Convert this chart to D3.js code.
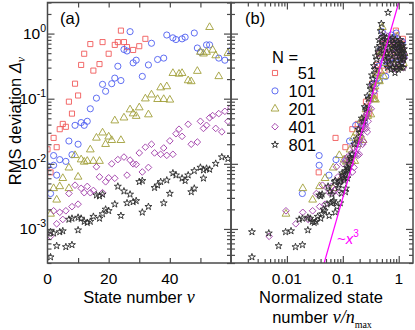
<!DOCTYPE html>
<html>
<head>
<meta charset="utf-8">
<script src="https://cdn.jsdelivr.net/npm/d3@7"></script>
<style>
  body { margin: 0; background: #fff; }
  svg { display: block; }
  text { font-family: "Liberation Sans", Arial, sans-serif; fill: #000; }
</style>
</head>
<body>
<svg id="chart" width="415" height="330"></svg>
<script>
// ######################## Data #############################################
// each entry is [state number nu, RMS deviation]
const sizes = [51, 101, 201, 401, 801]
const nMax = [27, 53, 104, 208, 422]   // used for the normalized axis of panel (b)

const dev51 = [[0,0.0167],[1,0.0074],[2,0.025],[3,0.018],[4,0.034],[5,0.041],[6,0.037],[7,0.09],[8,0.059],
  [9,0.17],[10,0.112],[11,0.33],[12,0.49],[14,0.69],[15,0.27],[17,0.34],[18,0.74],[20,0.49],[22,0.67],
  [23,0.74],[24,1.11],[25,0.74],[26,0.62],[28,0.56],[30,0.64],[32,0.83]]

const dev101 = [[0,0.0093],[1,0.0035],[2,0.0095],[2,0.0134],[3,0.0067],[4,0.0116],[6,0.0109],[7,0.0224],
  [8,0.0138],[9,0.039],[10,0.020],[11,0.043],[12,0.039],[13,0.045],[14,0.070],[16,0.102],[18,0.166],
  [19,0.13],[21,0.17],[22,0.207],[23,0.315],[24,0.19],[25,0.57],[26,0.54],[27,1.07],[28,0.355],[29,0.39],
  [31,0.22],[33,0.33],[34,0.71],[36,0.40],[38,0.42],[39,0.95],[41,0.86],[42,0.81],[44,0.83],[45,0.88],
  [48,1.02],[49,0.6],[50,0.52],[52,0.67],[53,0.67],[56,0.42],[58,0.39],[60,0.55],[62,0.75],[64,0.45],[66,0.46]]

const dev201 = [[1,0.0017],[2,0.0042],[3,0.0028],[4,0.0045],[5,0.006],[7,0.0087],[7,0.0042],[9,0.0135],
  [10,0.0063],[11,0.0116],[12,0.0107],[13,0.011],[14,0.0165],[15,0.011],[16,0.025],[17,0.011],[18,0.030],
  [19,0.020],[20,0.026],[21,0.023],[22,0.046],[24,0.023],[25,0.051],[27,0.068],[28,0.059],[29,0.054],
  [30,0.073],[32,0.10],[33,0.057],[34,0.115],[36,0.098],[37,0.148],[38,0.098],[39,0.154],[40,0.096],
  [41,0.246],[43,0.24],[44,0.246],[46,0.19],[47,0.184],[49,0.265],[50,0.52],[51,0.49],[52,0.52],[53,1.25],
  [54,0.56],[55,0.46],[56,0.22],[59,0.5],
  [62,0.35],[66,0.7],[70,0.45],[74,0.85],[78,0.5],[82,0.65],[86,0.32],[90,0.75],[94,0.45],[98,0.9],
  [102,0.4],[106,0.6],[110,0.3],[114,0.7],[118,0.45],[122,0.55],[126,0.35],[130,0.5]]

const dev401 = [[1,0.00077],[2,0.0019],[3,0.0012],[4,0.0018],[5,0.0014],[6,0.0019],[7,0.0035],[8,0.0022],
  [9,0.0047],[10,0.0024],[11,0.0042],[12,0.0036],[13,0.0045],[14,0.0036],[15,0.0039],[16,0.009],[17,0.0063],
  [18,0.0036],[19,0.0053],[20,0.0061],[21,0.0100],[22,0.006],[23,0.0116],[25,0.0127],[26,0.0067],[27,0.0114],
  [28,0.010],[29,0.0098],[30,0.0147],[31,0.0075],[32,0.018],[33,0.0088],[34,0.020],[35,0.0147],[37,0.014],
  [38,0.0175],[39,0.0135],[40,0.0225],[41,0.014],[42,0.029],[43,0.034],[44,0.0264],[46,0.0405],[47,0.020],
  [49,0.0216],[50,0.045],[51,0.035],[52,0.039],[53,0.051],[54,0.055],[55,0.035],[56,0.059],[57,0.031],
  [58,0.064],[59,0.045],[60,0.073],
  [62,0.09],[67,0.07],[72,0.16],[77,0.13],[82,0.3],[87,0.25],[92,0.5],[97,0.42],[102,0.85],[107,0.6],
  [112,1.0],[117,0.55],[122,0.75],[127,0.4],[132,0.9],[137,0.5],[142,0.65],[147,0.35],[152,0.8],[157,0.45],
  [162,0.6],[167,0.3],[172,0.75],[177,0.5],[182,0.65],[187,0.28],[192,0.55],[197,0.85],[202,0.4],[207,0.6],
  [212,0.32],[217,0.7],[222,0.45],[227,0.55],[232,0.35],[237,0.75],[242,0.4],[247,0.6],[252,0.3],[257,0.5],[262,0.42]]

const dev801 = [[1,0.00037],[1,0.0009],[2,0.00086],[3,0.00055],[4,0.0009],[5,0.00093],[6,0.00053],[7,0.0014],
  [8,0.00057],[8,0.00145],[10,0.0015],[10,0.00096],[11,0.00145],[12,0.0013],[13,0.00125],[14,0.0013],
  [15,0.00155],[16,0.0033],[17,0.00145],[17,0.0032],[18,0.0017],[18,0.0034],[19,0.002],[20,0.0019],
  [22,0.0024],[23,0.0045],[24,0.0016],[25,0.0038],[26,0.0025],[27,0.0034],[28,0.0026],[29,0.0027],
  [30,0.0053],[31,0.0018],[31,0.0055],[33,0.0022],[35,0.0043],[36,0.0047],[37,0.0053],[38,0.0025],
  [39,0.0056],[40,0.0035],[41,0.0072],[42,0.0067],[44,0.006],[45,0.0055],[46,0.0067],[47,0.0037],
  [48,0.0078],[48,0.0042],[50,0.0088],[51,0.006],[51,0.008],[52,0.0085],[53,0.0082],[55,0.0101],
  [57,0.0127],[59,0.012],
  [62,0.014],[68,0.02],[74,0.024],[80,0.034],[86,0.03],[92,0.05],[98,0.045],[104,0.075],[110,0.07],
  [116,0.11],[122,0.1],[128,0.16],[134,0.14],[140,0.23],[146,0.2],[152,0.32],[158,0.28],[164,0.45],
  [170,0.4],[176,0.6],[182,0.52],[188,0.8],[194,0.65],[200,1.1],[206,1.42],[212,0.75],[218,0.9],[224,0.55],
  [230,0.9],[236,0.45],[242,0.7],[248,0.38],[254,0.85],[260,0.5],[266,0.3],[272,2.1],[278,0.42],[284,0.6],
  [290,0.33],[296,0.8],[302,0.5],[308,0.28],[314,0.65],[320,0.4],[326,0.85],[332,0.3],[338,0.55],[344,0.7],
  [350,0.35],[356,0.6],[362,0.25],[368,0.8],[374,0.45],[380,0.65],[386,0.3],[392,0.5],[398,0.75],[404,0.38],
  [410,0.6],[416,0.28],[422,0.7],[428,0.45],[434,0.55],[440,0.32],[446,0.8],[452,0.4],[458,0.62],[464,0.3],
  [470,0.5],[476,0.7],[482,0.35],[488,0.55],[494,0.42],[500,0.65],[506,0.3],[512,0.5],[518,0.4],[524,0.58],[530,0.45]]

// guide line ~x^3 in panel (b)
const guideX = [0.0464, 1.0]
const guideY = [3e-4, 3]

const xTicksA = [0, 20, 40]
const xMinorA = [10, 30, 50]
const xTicksB = [0.01, 0.1, 1]
const yDecades = [1e-3, 1e-2, 1e-1, 1]

// ##################### Layout #################################
const svg = d3.select("#chart")
const yTop = 2.5, yBottom = 263
const ax0 = 47.5, ax1 = 231, bx1 = 413
const axisColor = "#4a4a4a"

const y = d3.scaleLog().domain([3e-4, 3]).range([yBottom, yTop])
const xa = d3.scaleLinear().domain([0, 60]).range([ax0, ax1])
const xb = d3.scaleLog().domain([0.001, 1.8]).range([ax1, bx1])

const series = [
  { data: dev51, color: "#f05a5a", sym: d3.symbolSquare, size: 26, rot: 0 },
  { data: dev101, color: "#4f5ff0", sym: d3.symbolCircle, size: 30, rot: 0 },
  { data: dev201, color: "#a29f3a", sym: d3.symbolTriangle, size: 26, rot: 0 },
  { data: dev401, color: "#a444ac", sym: d3.symbolSquare, size: 22, rot: 45 },
  { data: dev801, color: "#2a2a2a", sym: d3.symbolStar, size: 15, rot: 0 },
]

function minorLog(scale) {
  // minor ticks 2..9 of each decade inside the domain
  return scale.ticks(40).filter(v => Math.abs(Math.log10(v) - Math.round(Math.log10(v))) > 1e-6)
}

const defs = svg.append("defs")
defs.append("clipPath").attr("id", "clipA").append("rect")
  .attr("x", ax0).attr("y", yTop).attr("width", ax1 - ax0).attr("height", yBottom - yTop)
defs.append("clipPath").attr("id", "clipB").append("rect")
  .attr("x", ax1).attr("y", yTop).attr("width", bx1 - ax1).attr("height", yBottom - yTop)

function drawMarks(g, xfun, filter) {
  series.forEach((s, i) => {
    const sym = d3.symbol().type(s.sym).size(s.size)
    g.append("g").selectAll("path")
      .data(s.data.filter(d => filter(d, i)))
      .join("path")
      .attr("d", sym)
      .attr("transform", d => `translate(${xfun(d, i)},${y(d[1])}) rotate(${s.rot})`)
      .attr("fill", "none")
      .attr("stroke", s.color)
      .attr("stroke-width", 0.9)
  })
}

// panel (a)
const ga = svg.append("g").attr("clip-path", "url(#clipA)")
drawMarks(ga, d => xa(d[0]), () => true)

// panel (b)
const gb = svg.append("g").attr("clip-path", "url(#clipB)")
drawMarks(gb, (d, i) => xb(d[0] / nMax[i]), d => d[0] > 0)

gb.append("path")
  .datum(d3.zip(guideX, guideY))
  .attr("fill", "none")
  .attr("stroke", "#ff00ff")
  .attr("stroke-width", 1.2)
  .attr("d", d3.line().x(d => xb(d[0])).y(d => y(d[1])))

// ##################### Axes #################################
function tickAxis(axisFn, scale, values, size, translate) {
  svg.append("g")
    .attr("transform", translate)
    .call(axisFn(scale).tickValues(values).tickSize(size).tickFormat(""))
    .call(g => g.select(".domain").remove())
    .call(g => g.selectAll("line").attr("stroke", axisColor).attr("stroke-width", 1.2))
}

const yMinor = minorLog(y)
// vertical axes: (a) left, shared middle, (b) right
tickAxis(d3.axisLeft, y, yDecades, -7, `translate(${ax0},0)`)
tickAxis(d3.axisLeft, y, yMinor, -4, `translate(${ax0},0)`)
tickAxis(d3.axisRight, y, yDecades, -7, `translate(${ax1},0)`)
tickAxis(d3.axisRight, y, yMinor, -4, `translate(${ax1},0)`)
tickAxis(d3.axisLeft, y, yDecades, -7, `translate(${ax1},0)`)
tickAxis(d3.axisLeft, y, yMinor, -4, `translate(${ax1},0)`)
tickAxis(d3.axisRight, y, yDecades, -7, `translate(${bx1},0)`)
tickAxis(d3.axisRight, y, yMinor, -4, `translate(${bx1},0)`)

// horizontal axes
const xaTicks = xTicksA.concat(xMinorA).filter(v => v > 0)
tickAxis(d3.axisBottom, xa, xaTicks, -5, `translate(0,${yBottom})`)
tickAxis(d3.axisTop, xa, xaTicks, -5, `translate(0,${yTop})`)
const xbMinor = minorLog(xb)
tickAxis(d3.axisBottom, xb, xTicksB, -7, `translate(0,${yBottom})`)
tickAxis(d3.axisBottom, xb, xbMinor, -4, `translate(0,${yBottom})`)
tickAxis(d3.axisTop, xb, xTicksB, -7, `translate(0,${yTop})`)
tickAxis(d3.axisTop, xb, xbMinor, -4, `translate(0,${yTop})`)

// frames
svg.append("rect").attr("x", ax0).attr("y", yTop).attr("width", ax1 - ax0).attr("height", yBottom - yTop)
  .attr("fill", "none").attr("stroke", axisColor).attr("stroke-width", 1.5)
svg.append("rect").attr("x", ax1).attr("y", yTop).attr("width", bx1 - ax1).attr("height", yBottom - yTop)
  .attr("fill", "none").attr("stroke", axisColor).attr("stroke-width", 1.5)

// tick labels
yDecades.forEach(v => {
  const t = svg.append("text").attr("x", 46).attr("y", y(v) + 5.5)
    .attr("text-anchor", "end").attr("font-size", 15.5).text("10")
  t.append("tspan").attr("dy", -7).attr("font-size", 10.5).text(String(Math.round(Math.log10(v))))
})
xTicksA.forEach(v => {
  svg.append("text").attr("x", xa(v)).attr("y", 284).attr("text-anchor", "middle")
    .attr("font-size", 15.5).text(v)
})
xTicksB.forEach(v => {
  svg.append("text").attr("x", xb(v)).attr("y", 284).attr("text-anchor", "middle")
    .attr("font-size", 15.5).text(v)
})

// axis titles
const serif = '"Liberation Serif", "Times New Roman", serif'
const yt = svg.append("text").attr("transform", "translate(21,121) rotate(-90)")
  .attr("text-anchor", "middle").attr("font-size", 16.5).text("RMS deviation ")
yt.append("tspan").attr("font-style", "italic").text("Δ")
yt.append("tspan").attr("font-family", serif).attr("font-style", "italic")
  .attr("font-size", 12).attr("dy", 4).text("ν")

const xt = svg.append("text").attr("x", 139).attr("y", 303).attr("text-anchor", "middle")
  .attr("font-size", 16.5).text("State number ")
xt.append("tspan").attr("font-family", serif).attr("font-style", "italic").attr("font-size", 18).text("ν")

svg.append("text").attr("x", 321).attr("y", 303).attr("text-anchor", "middle")
  .attr("font-size", 16.5).text("Normalized state")
const xt2 = svg.append("text").attr("x", 322).attr("y", 323).attr("text-anchor", "middle")
  .attr("font-size", 16.5).text("number ")
xt2.append("tspan").attr("font-family", serif).attr("font-style", "italic").attr("font-size", 18).text("ν/n")
xt2.append("tspan").attr("font-family", serif).attr("font-size", 10).attr("dy", 5).text("max")

// panel labels
svg.append("text").attr("x", 60).attr("y", 24).attr("font-size", 16.5).text("(a)")
svg.append("text").attr("x", 245).attr("y", 24).attr("font-size", 16.5).text("(b)")

// guide label
const gl = svg.append("text").attr("x", 337).attr("y", 244).attr("font-family", serif)
  .attr("font-size", 15).style("fill", "#ff00ff").text("~")
gl.append("tspan").attr("font-style", "italic").text("x")
gl.append("tspan").attr("font-size", 10).attr("dy", -7).text("3")

// ##################### Legend #################################
svg.append("text").attr("x", 272).attr("y", 63).attr("font-size", 16.5).text("N =")
series.forEach((s, i) => {
  const ry = 73 + i * 17.9
  svg.append("path").attr("d", d3.symbol().type(s.sym).size(s.size)())
    .attr("transform", `translate(275,${ry}) rotate(${s.rot})`)
    .attr("fill", "none").attr("stroke", s.color).attr("stroke-width", 0.9)
  svg.append("text").attr("x", 316).attr("y", ry + 6).attr("text-anchor", "end")
    .attr("font-size", 16.5).text(sizes[i])
})
</script>
</body>
</html>
